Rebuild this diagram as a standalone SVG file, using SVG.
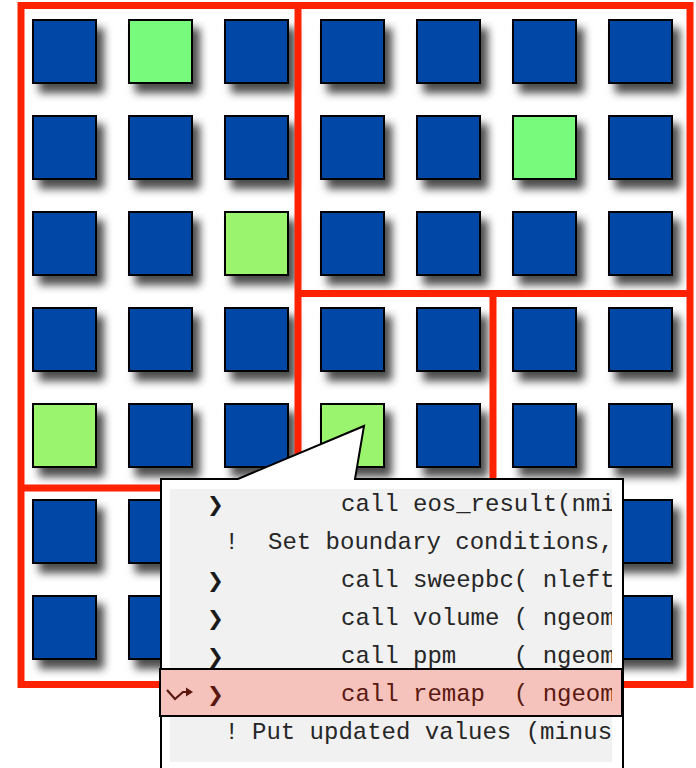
<svg xmlns="http://www.w3.org/2000/svg" width="696" height="768" viewBox="0 0 696 768">
<style>
.sq{stroke:#000;stroke-width:2}
.b{fill:#0047A6}
.g1{fill:#78FB7B}
.g2{fill:#9AF46D}
.frame{fill:none;stroke:#FF2200;stroke-width:7}
.code{font-family:"Liberation Mono","DejaVu Sans Mono",monospace;font-size:24px;fill:#262626}
.mk{font-family:"DejaVu Sans",sans-serif;font-size:20px;fill:#1a1a1a;font-weight:bold}
.hl{fill:#5A1810}
</style>
<defs>
<filter id="sh" x="-20%" y="-20%" width="160%" height="160%">
<feDropShadow dx="7" dy="9" stdDeviation="4.5" flood-color="#000" flood-opacity="0.7"/>
</filter>
<clipPath id="cc"><rect x="170" y="489" width="442" height="273"/></clipPath>
</defs>
<rect width="696" height="768" fill="#fff"/>
<g id="squares" filter="url(#sh)">
<g id="sq-r0c0"><rect class="sq b" x="33" y="20" width="63" height="63"/></g>
<g id="sq-r0c1"><rect class="sq g1" x="129" y="20" width="63" height="63"/></g>
<g id="sq-r0c2"><rect class="sq b" x="225" y="20" width="63" height="63"/></g>
<g id="sq-r0c3"><rect class="sq b" x="321" y="20" width="63" height="63"/></g>
<g id="sq-r0c4"><rect class="sq b" x="417" y="20" width="63" height="63"/></g>
<g id="sq-r0c5"><rect class="sq b" x="513" y="20" width="63" height="63"/></g>
<g id="sq-r0c6"><rect class="sq b" x="609" y="20" width="63" height="63"/></g>
<g id="sq-r1c0"><rect class="sq b" x="33" y="116" width="63" height="63"/></g>
<g id="sq-r1c1"><rect class="sq b" x="129" y="116" width="63" height="63"/></g>
<g id="sq-r1c2"><rect class="sq b" x="225" y="116" width="63" height="63"/></g>
<g id="sq-r1c3"><rect class="sq b" x="321" y="116" width="63" height="63"/></g>
<g id="sq-r1c4"><rect class="sq b" x="417" y="116" width="63" height="63"/></g>
<g id="sq-r1c5"><rect class="sq g1" x="513" y="116" width="63" height="63"/></g>
<g id="sq-r1c6"><rect class="sq b" x="609" y="116" width="63" height="63"/></g>
<g id="sq-r2c0"><rect class="sq b" x="33" y="212" width="63" height="63"/></g>
<g id="sq-r2c1"><rect class="sq b" x="129" y="212" width="63" height="63"/></g>
<g id="sq-r2c2"><rect class="sq g2" x="225" y="212" width="63" height="63"/></g>
<g id="sq-r2c3"><rect class="sq b" x="321" y="212" width="63" height="63"/></g>
<g id="sq-r2c4"><rect class="sq b" x="417" y="212" width="63" height="63"/></g>
<g id="sq-r2c5"><rect class="sq b" x="513" y="212" width="63" height="63"/></g>
<g id="sq-r2c6"><rect class="sq b" x="609" y="212" width="63" height="63"/></g>
<g id="sq-r3c0"><rect class="sq b" x="33" y="308" width="63" height="63"/></g>
<g id="sq-r3c1"><rect class="sq b" x="129" y="308" width="63" height="63"/></g>
<g id="sq-r3c2"><rect class="sq b" x="225" y="308" width="63" height="63"/></g>
<g id="sq-r3c3"><rect class="sq b" x="321" y="308" width="63" height="63"/></g>
<g id="sq-r3c4"><rect class="sq b" x="417" y="308" width="63" height="63"/></g>
<g id="sq-r3c5"><rect class="sq b" x="513" y="308" width="63" height="63"/></g>
<g id="sq-r3c6"><rect class="sq b" x="609" y="308" width="63" height="63"/></g>
<g id="sq-r4c0"><rect class="sq g2" x="33" y="404" width="63" height="63"/></g>
<g id="sq-r4c1"><rect class="sq b" x="129" y="404" width="63" height="63"/></g>
<g id="sq-r4c2"><rect class="sq b" x="225" y="404" width="63" height="63"/></g>
<g id="sq-r4c3"><rect class="sq g2" x="321" y="404" width="63" height="63"/></g>
<g id="sq-r4c4"><rect class="sq b" x="417" y="404" width="63" height="63"/></g>
<g id="sq-r4c5"><rect class="sq b" x="513" y="404" width="63" height="63"/></g>
<g id="sq-r4c6"><rect class="sq b" x="609" y="404" width="63" height="63"/></g>
<g id="sq-r5c0"><rect class="sq b" x="33" y="500" width="63" height="63"/></g>
<g id="sq-r5c1"><rect class="sq b" x="129" y="500" width="63" height="63"/></g>
<g id="sq-r5c2"><rect class="sq b" x="225" y="500" width="63" height="63"/></g>
<g id="sq-r5c3"><rect class="sq b" x="321" y="500" width="63" height="63"/></g>
<g id="sq-r5c4"><rect class="sq b" x="417" y="500" width="63" height="63"/></g>
<g id="sq-r5c5"><rect class="sq b" x="513" y="500" width="63" height="63"/></g>
<g id="sq-r5c6"><rect class="sq b" x="609" y="500" width="63" height="63"/></g>
<g id="sq-r6c0"><rect class="sq b" x="33" y="596" width="63" height="63"/></g>
<g id="sq-r6c1"><rect class="sq b" x="129" y="596" width="63" height="63"/></g>
<g id="sq-r6c2"><rect class="sq b" x="225" y="596" width="63" height="63"/></g>
<g id="sq-r6c3"><rect class="sq b" x="321" y="596" width="63" height="63"/></g>
<g id="sq-r6c4"><rect class="sq b" x="417" y="596" width="63" height="63"/></g>
<g id="sq-r6c5"><rect class="sq b" x="513" y="596" width="63" height="63"/></g>
<g id="sq-r6c6"><rect class="sq b" x="609" y="596" width="63" height="63"/></g>
</g>
<g id="frame">
<rect class="frame" x="21" y="5.5" width="669" height="679"/>
<line class="frame" x1="298" y1="5.5" x2="298" y2="684.5"/>
<line class="frame" x1="21" y1="488" x2="298" y2="488"/>
<line class="frame" x1="298" y1="293.5" x2="690" y2="293.5"/>
<line class="frame" x1="493" y1="293.5" x2="493" y2="684.5"/>
</g>
<g id="callout">
<path d="M161,780 L161,479 L238,479 L364,426 L355,479 L623,479 L623,780" fill="#fff" stroke="#000" stroke-width="2"/>
<rect x="170" y="489" width="442" height="273" fill="#F1F1F1"/>
<rect x="160" y="669" width="462" height="47" fill="#F5C3BB" stroke="#000" stroke-width="2"/>
<g clip-path="url(#cc)">
<text class="mk" x="207" y="511">❯</text>
<text class="code" x="341" y="511">call eos_result(nmi</text>
<text class="code" x="224.5" y="549">!</text>
<text class="code" x="268" y="549">Set boundary conditions,</text>
<text class="mk" x="207" y="587">❯</text>
<text class="code" x="341" y="587">call sweepbc( nleft</text>
<text class="mk" x="207" y="625">❯</text>
<text class="code" x="341" y="625" xml:space="preserve">call volume ( ngeom</text>
<text class="mk" x="207" y="663">❯</text>
<text class="code" x="341" y="663" xml:space="preserve">call ppm    ( ngeom</text>
<text class="mk hl" x="207" y="701">❯</text>
<text class="code hl" x="341" y="701" xml:space="preserve">call remap  ( ngeom</text>
<text class="code" x="224.5" y="739">!</text>
<text class="code" x="252" y="739">Put updated values (minus</text>
</g>
<path d="M167,690 L175,699 L183,692 L188,692" fill="none" stroke="#5A1810" stroke-width="2.2"/>
<path d="M186,687.5 L193,692 L186,696.5 Z" fill="#5A1810"/>
</g>
</svg>
